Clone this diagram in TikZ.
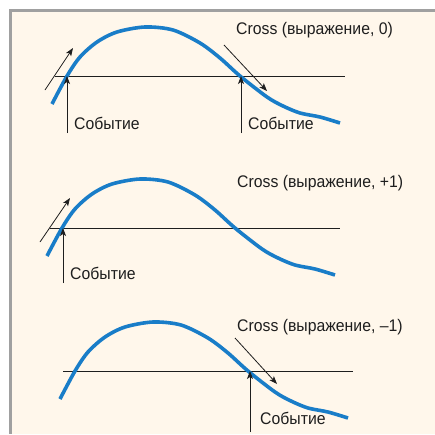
\documentclass[tikz,border=0pt]{standalone}
\usepackage{fontspec}
\setmainfont{Liberation Sans}[FakeStretch=0.94]
\usetikzlibrary{arrows.meta}
\definecolor{paper}{RGB}{255,247,235}
\definecolor{rim}{RGB}{160,160,160}
\definecolor{signal}{RGB}{25,125,200}
\definecolor{ink}{RGB}{30,30,30}
\newcommand{\drawwave}{\draw[wave] plot[smooth, tension=0.5] coordinates {(-3,28) (12,0) (25,-19) (42,-34) (62,-44) (90,-49) (118,-46) (145,-33) (165,-18) (185,0) (212,21) (228,30) (245,37) (265,41) (285,47)};}

\begin{document}
\begin{tikzpicture}[>={Stealth[length=8pt,width=6pt,inset=2pt]}, x=1pt, y=-1pt,
  wave/.style={signal, line width=3.6pt},
  level/.style={ink, line width=0.9pt},
  evt/.style={->, ink, line width=0.8pt},
  lbl/.style={anchor=base west, inner sep=0pt, text=ink, font=\fontsize{16.8}{20}\selectfont}]
\useasboundingbox (0,0) rectangle (435,434);
\fill[white] (0,0) rectangle (435,434);
\fill[paper] (12,11) rectangle (435,434);
\fill[rim] (9,9) rectangle (435,11.5);
\fill[rim] (9,9) rectangle (12,434);

% panel 1: Cross(expr, 0)
\begin{scope}[shift={(55,76)}]
\coordinate (l1a) at (0,0);
\coordinate (l1b) at (290,0);
\draw[level] (l1a) -- (l1b);
\drawwave
\coordinate (up1) at (12,0);
\coordinate (dn1) at (186,0);
\coordinate (f1a) at (12,57);
\coordinate (f1b) at (186,57);
\coordinate (s1a) at (-10,14);
\coordinate (s1b) at (18,-28);
\coordinate (t1a) at (169,-31);
\coordinate (t1b) at (212,15);
\draw[evt] (f1a) -- (up1);
\draw[evt] (f1b) -- (dn1);
\draw[evt] (s1a) -- (s1b);
\draw[evt] (t1a) -- (t1b);
\node[lbl] (ev1a) at (19,53) {Событие};
\node[lbl] (ev1b) at (193,53) {Событие};
\node[lbl] (cr1) at (181,-42) {Cross (выражение, 0)};
\end{scope}

% panel 2: Cross(expr, +1)
\begin{scope}[shift={(50,228)}]
\coordinate (l2a) at (0,0);
\coordinate (l2b) at (290,0);
\draw[level] (l2a) -- (l2b);
\drawwave
\coordinate (up2) at (13,0);
\coordinate (f2a) at (13,55);
\coordinate (s2a) at (-10,14);
\coordinate (s2b) at (20,-30);
\draw[evt] (f2a) -- (up2);
\draw[evt] (s2a) -- (s2b);
\node[lbl] (ev2) at (20,51) {Событие};
\node[lbl] (cr2) at (187,-41) {Cross (выражение, +1)};
\end{scope}

% panel 3: Cross(expr, -1)
\begin{scope}[shift={(63,371)}]
\coordinate (l3a) at (0,0);
\coordinate (l3b) at (290,0);
\draw[level] (l3a) -- (l3b);
\drawwave
\coordinate (dn3) at (187,0);
\coordinate (f3b) at (187,61);
\coordinate (t3a) at (172,-33);
\coordinate (t3b) at (214,13);
\draw[evt] (f3b) -- (dn3);
\draw[evt] (t3a) -- (t3b);
\node[lbl] (ev3) at (197,53) {Событие};
\node[lbl] (cr3) at (174,-40) {Cross (выражение, –1)};
\end{scope}
\end{tikzpicture}
\end{document}
